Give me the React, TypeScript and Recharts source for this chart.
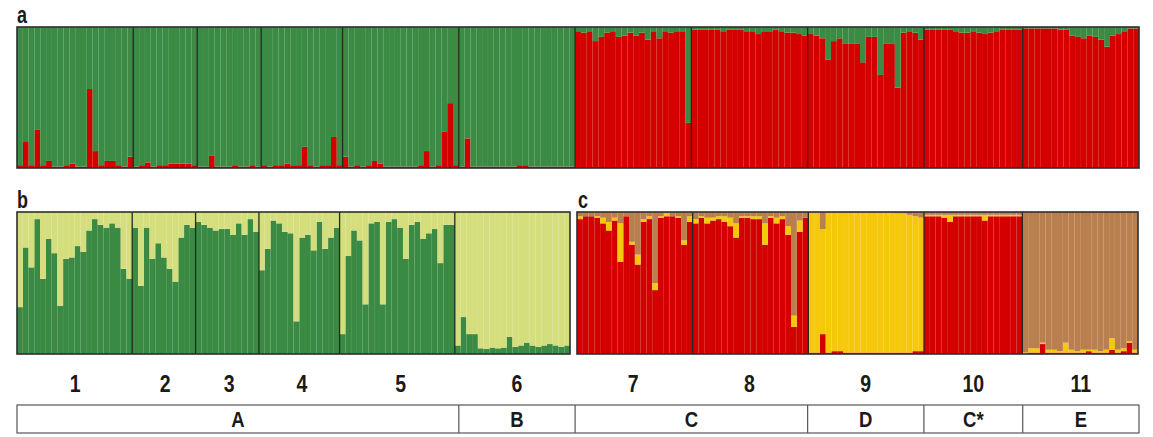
import { BarChart, Bar, XAxis, YAxis, ReferenceLine } from 'recharts'

// populations (individuals per population) and labels
const popSizes = [20, 11, 11, 14, 20, 20, 20, 20, 20, 17, 20]
const popLabels = ['1', '2', '3', '4', '5', '6', '7', '8', '9', '10', '11']
const groupLabels = ['A', 'B', 'C', 'D', 'C*', 'E']
const groupPopCounts = [5, 1, 2, 1, 1, 1]

// panel a: red cluster membership per individual (green is the rest)
const aRed = [
  // 1
  0.02, 0.19, 0.02, 0.27, 0.02, 0.05, 0.01, 0.01, 0.02, 0.03, 0.01, 0.01, 0.56, 0.12, 0.02, 0.05, 0.05, 0.02, 0.01, 0.08,
  // 2
  0.01, 0.02, 0.04, 0.01, 0.02, 0.02, 0.03, 0.03, 0.03, 0.03, 0.02,
  // 3
  0.01, 0.01, 0.09, 0.01, 0.01, 0.01, 0.02, 0.01, 0.01, 0.02, 0.01,
  // 4
  0.02, 0.01, 0.02, 0.02, 0.03, 0.02, 0.02, 0.15, 0.02, 0.01, 0.02, 0.02, 0.22, 0.02,
  // 5
  0.08, 0.01, 0.02, 0.01, 0.02, 0.05, 0.03, 0.01, 0.01, 0.01, 0.01, 0.01, 0.01, 0.02, 0.12, 0.01, 0.02, 0.26, 0.46, 0.02,
  // 6
  0.01, 0.21, 0.01, 0.01, 0.01, 0.01, 0.01, 0.01, 0.01, 0.01, 0.02, 0.02, 0.01, 0.01, 0.01, 0.01, 0.01, 0.01, 0.01, 0.01,
  // 7
  0.97, 0.96, 0.97, 0.9, 0.93, 0.96, 0.97, 0.93, 0.94, 0.96, 0.94, 0.96, 0.91, 0.97, 0.92, 0.97, 0.96, 0.97, 0.97, 0.32,
  // 8
  0.98, 0.98, 0.98, 0.98, 0.98, 0.97, 0.98, 0.98, 0.98, 0.97, 0.97, 0.95, 0.97, 0.97, 0.98, 0.97, 0.96, 0.96, 0.95, 0.94,
  // 9
  0.95, 0.94, 0.92, 0.77, 0.9, 0.92, 0.88, 0.88, 0.88, 0.75, 0.93, 0.93, 0.66, 0.88, 0.88, 0.57, 0.96, 0.97, 0.96, 0.91,
  // 10
  0.98, 0.98, 0.98, 0.98, 0.98, 0.97, 0.96, 0.96, 0.97, 0.96, 0.95, 0.96, 0.97, 0.98, 0.98, 0.98, 0.98,
  // 11
  0.99, 0.99, 0.99, 0.99, 0.99, 0.99, 0.98, 0.98, 0.94, 0.93, 0.92, 0.94, 0.93, 0.91, 0.86, 0.94, 0.95, 0.97, 0.99, 0.99,
]

// panel b: dark green membership, populations 1-6 (light green is the rest)
const bGreen = [
  0.33, 0.75, 0.61, 0.95, 0.53, 0.81, 0.71, 0.34, 0.67, 0.68, 0.76, 0.72, 0.87, 0.95, 0.91, 0.89, 0.92, 0.89, 0.6, 0.53,
  0.89, 0.48, 0.89, 0.67, 0.78, 0.68, 0.6, 0.51, 0.82, 0.91, 0.89,
  0.93, 0.91, 0.89, 0.87, 0.88, 0.88, 0.84, 0.92, 0.84, 0.95, 0.86,
  0.59, 0.74, 0.94, 0.92, 0.86, 0.85, 0.23, 0.82, 0.84, 0.73, 0.93, 0.74, 0.82, 0.89,
  0.14, 0.69, 0.87, 0.8, 0.35, 0.92, 0.93, 0.35, 0.93, 0.95, 0.89, 0.67, 0.91, 0.93, 0.81, 0.85, 0.88, 0.64, 0.91, 0.91,
  0.06, 0.26, 0.14, 0.14, 0.04, 0.035, 0.045, 0.04, 0.045, 0.12, 0.05, 0.06, 0.08, 0.06, 0.05, 0.06, 0.07, 0.06, 0.05, 0.06,
]

// panel c: populations 7-11, red and yellow membership (brown is the rest)
const cRed = [
  0.95, 0.97, 0.97, 0.96, 0.92, 0.87, 0.94, 0.65, 0.97, 0.77, 0.63, 0.93, 0.95, 0.45, 0.96, 0.97, 0.97, 0.96, 0.77, 0.93,
  0.92, 0.96, 0.92, 0.94, 0.95, 0.93, 0.9, 0.82, 0.96, 0.96, 0.95, 0.95, 0.77, 0.96, 0.92, 0.95, 0.84, 0.19, 0.86, 0.96,
  0.01, 0.01, 0.14, 0.01, 0.02, 0.02, 0.01, 0.01, 0.01, 0.01, 0.01, 0.01, 0.01, 0.01, 0.01, 0.01, 0.01, 0.01, 0.02, 0.02,
  0.97, 0.97, 0.97, 0.96, 0.93, 0.97, 0.97, 0.97, 0.97, 0.97, 0.94, 0.97, 0.97, 0.97, 0.97, 0.97, 0.97,
  0, 0.01, 0.01, 0.07, 0.01, 0.01, 0.01, 0.01, 0.01, 0.01, 0.01, 0.02, 0.01, 0.01, 0.01, 0.03, 0.01, 0.02, 0.08, 0.01,
]
const cYellow = [
  0.02, 0, 0, 0.01, 0.04, 0.06, 0.02, 0.27, 0, 0.02, 0.07, 0.02, 0.02, 0.05, 0.01, 0.02, 0, 0.01, 0.03, 0.04,
  0.03, 0.01, 0.04, 0.02, 0.02, 0.04, 0.06, 0.1, 0.01, 0.01, 0.02, 0.02, 0.15, 0.01, 0.04, 0.02, 0.06, 0.08, 0.08, 0,
  0.985, 0.985, 0.74, 0.985, 0.975, 0.975, 0.985, 0.985, 0.985, 0.985, 0.985, 0.985, 0.985, 0.985, 0.985, 0.98, 0.98, 0.97, 0.95, 0.94,
  0.01, 0.01, 0.01, 0.02, 0.05, 0.01, 0.01, 0.01, 0.01, 0.01, 0.04, 0.01, 0.01, 0.01, 0.01, 0.01, 0.01,
  0.01, 0.03, 0.03, 0.01, 0.02, 0.02, 0.01, 0.07, 0.02, 0.01, 0.02, 0.01, 0.02, 0.01, 0.02, 0.08, 0.02, 0.02, 0.01, 0.02,
]

const FONT = "'Liberation Sans', Arial, sans-serif"
const SEP = '#1f2a20'

// individual ids for populations [from, to)
function ids(from: number, to: number) {
  const out: { id: string; pop: number }[] = []
  for (let p = from; p < to; p++) {
    for (let k = 0; k < popSizes[p]; k++) out.push({ id: `${p + 1}-${k + 1}`, pop: p })
  }
  return out
}

const indA = ids(0, 11)
const indB = ids(0, 6)
const indC = ids(6, 11)

const dataA = indA.map((d, i) => ({ id: d.id, red: aRed[i], green: 1 - aRed[i] }))
const dataB = indB.map((d, i) => ({ id: d.id, dark: bGreen[i], light: 1 - bGreen[i] }))
const dataC = indC.map((d, i) => ({
  id: d.id,
  red: cRed[i],
  yellow: cYellow[i],
  brown: Math.max(0, 1 - cRed[i] - cYellow[i]),
}))

// first individual of every population except the first one in a panel
const starts = (inds: { id: string; pop: number }[]) =>
  inds.filter((d, i) => i > 0 && d.pop !== inds[i - 1].pop).map((d) => d.id)

// bars fill the whole band (recharts floors the bar width otherwise)
const stripe = (band: number, fill: string) => (p: any) => {
  if (!p.height || p.height <= 0) return <g />
  return <rect x={p.x} y={p.y} width={band + 0.05} height={p.height} fill={fill} />
}

type Series = { key: string; color: string }

function Structure({ data, series, width, height, left, top, seps }: {
  data: any[]
  series: Series[]
  width: number
  height: number
  left: number
  top: number
  seps: string[]
}) {
  const band = width / data.length
  return (
    <div style={{ position: 'absolute', left, top, width, height }}>
      <BarChart
        width={width}
        height={height}
        data={data}
        margin={{ top: 0, right: 0, bottom: 0, left: 0 }}
        barCategoryGap={0}
        barGap={0}
      >
        <XAxis dataKey="id" type="category" hide />
        <YAxis type="number" domain={[0, 1]} hide allowDataOverflow />
        {series.map((s) => (
          <Bar
            key={s.key}
            dataKey={s.key}
            stackId="q"
            fill={s.color}
            shape={stripe(band, s.color)}
            isAnimationActive={false}
          />
        ))}
        {seps.map((id) => (
          <ReferenceLine key={id} x={id} position="start" stroke={SEP} strokeWidth={1.3} />
        ))}
      </BarChart>
    </div>
  )
}

export default function App() {
  const A = { left: 17, top: 27, width: 1122, height: 141 }
  const B = { left: 17, top: 212, width: 553, height: 142 }
  const C = { left: 577, top: 212, width: 561, height: 142 }

  // population centres / group edges along panel a
  const unit = A.width / indA.length
  const cum: number[] = []
  popSizes.reduce((s, n) => {
    cum.push(s)
    return s + n
  }, 0)
  const popCenter = (p: number) => A.left + unit * (cum[p] + popSizes[p] / 2)
  const edges: number[] = [A.left]
  let pi = 0
  groupPopCounts.forEach((n) => {
    pi += n
    edges.push(A.left + unit * (pi < popSizes.length ? cum[pi] : indA.length))
  })

  const boxTop = 405
  const boxBottom = 433

  return (
    <div style={{ position: 'absolute', left: 0, top: 0, width: 1153, height: 437, background: '#fff' }}>
      <svg width={1153} height={437} style={{ position: 'absolute', left: 0, top: 0 }}>
        <g fontFamily={FONT} fontWeight="bold" fill="#1a1a1a">
          <text transform="translate(17,23) scale(1,1.35)" fontSize={18}>a</text>
          <text transform="translate(17,208) scale(1,1.35)" fontSize={18}>b</text>
          <text transform="translate(578,208) scale(1,1.35)" fontSize={18}>c</text>
          {popLabels.map((l, p) => (
            <text
              key={l}
              transform={`translate(${popCenter(p)},392) scale(1,1.22)`}
              fontSize={19.5}
              textAnchor="middle"
            >
              {l}
            </text>
          ))}
        </g>
        <rect x={A.left} y={boxTop} width={A.width} height={boxBottom - boxTop} fill="none" stroke="#555" strokeWidth={1.2} />
        {edges.slice(1, -1).map((x, i) => (
          <line key={i} x1={x} x2={x} y1={boxTop} y2={boxBottom} stroke="#555" strokeWidth={1.2} />
        ))}
        <g fontFamily={FONT} fontWeight="bold" fill="#1a1a1a">
          {groupLabels.map((g, i) => (
            <text
              key={g}
              transform={`translate(${(edges[i] + edges[i + 1]) / 2},427) scale(1,1.2)`}
              fontSize={18.5}
              textAnchor="middle"
            >
              {g}
            </text>
          ))}
        </g>
      </svg>

      <Structure
        {...A}
        data={dataA}
        series={[
          { key: 'red', color: '#d40000' },
          { key: 'green', color: '#3b8b45' },
        ]}
        seps={starts(indA)}
      />
      <Structure
        {...B}
        data={dataB}
        series={[
          { key: 'dark', color: '#3b8a44' },
          { key: 'light', color: '#d5de7d' },
        ]}
        seps={starts(indB)}
      />
      <Structure
        {...C}
        data={dataC}
        series={[
          { key: 'red', color: '#d40000' },
          { key: 'yellow', color: '#f6c80c' },
          { key: 'brown', color: '#b97f4f' },
        ]}
        seps={starts(indC)}
      />

      <svg width={1153} height={437} style={{ position: 'absolute', left: 0, top: 0, pointerEvents: 'none' }}>
        {[A, B, C].map((r, i) => (
          <rect key={i} x={r.left} y={r.top} width={r.width} height={r.height} fill="none" stroke="#2e2e2e" strokeWidth={1.6} />
        ))}
      </svg>
    </div>
  )
}
